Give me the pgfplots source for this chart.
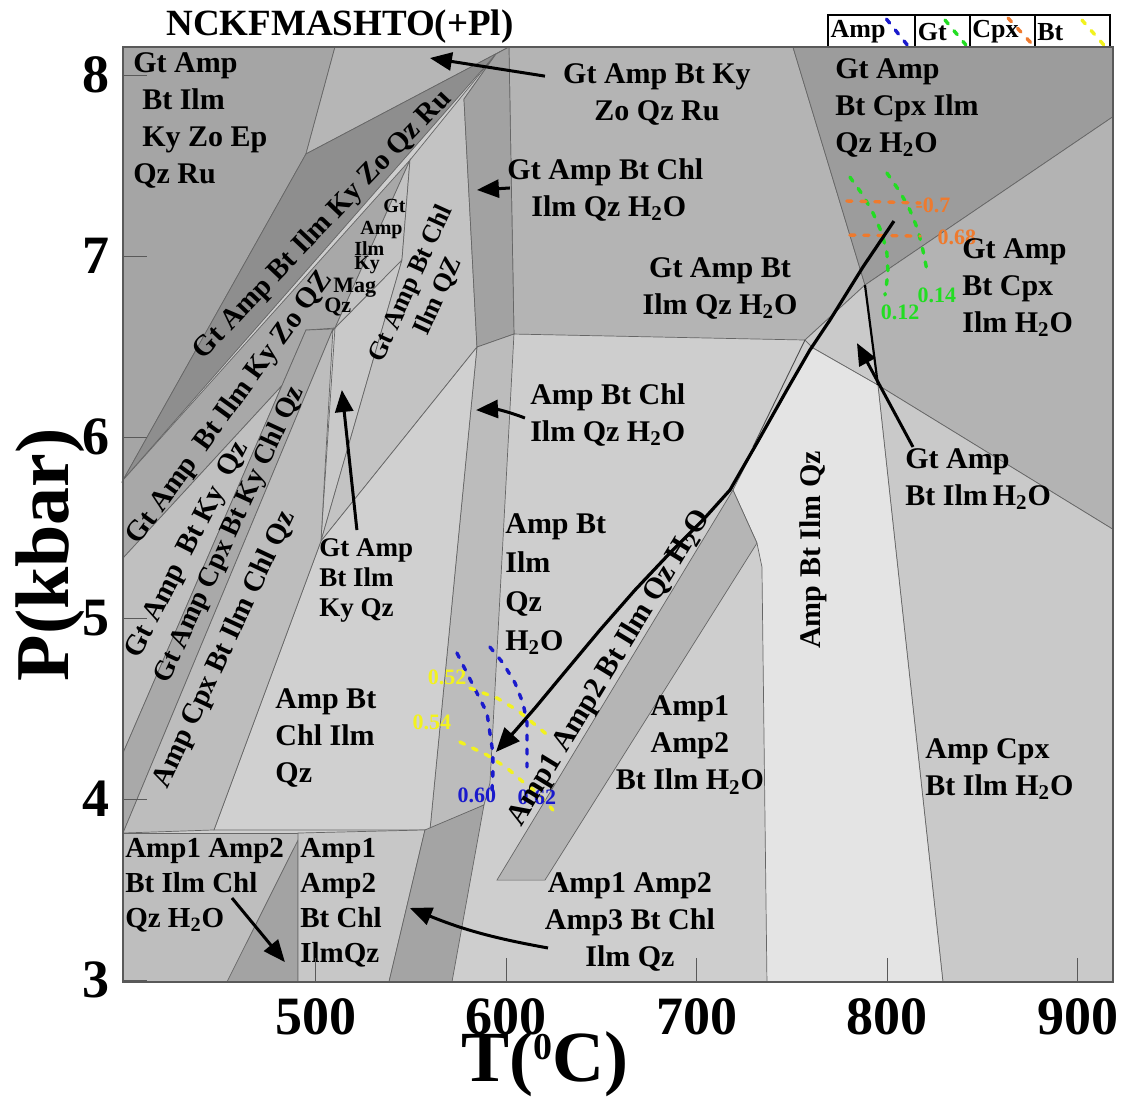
\documentclass[border=0pt]{standalone}
\usepackage{fontspec}
\setmainfont{Liberation Serif}
\usepackage{pgfplots}
\pgfplotsset{compat=1.18}
\usetikzlibrary{arrows.meta}

% grey shades of the assemblage fields
\definecolor{gBase}{HTML}{CECECE}
\definecolor{gA}{HTML}{A5A5A5}
\definecolor{gB}{HTML}{B6B6B6}
\definecolor{gC}{HTML}{8E8E8E}
\definecolor{gD}{HTML}{A8A8A8}
\definecolor{gE}{HTML}{C3C3C3}
\definecolor{gWedge}{HTML}{C9C9C9}
\definecolor{gChlBand}{HTML}{C3C3C3}
\definecolor{gTop}{HTML}{B4B4B4}
\definecolor{gThin}{HTML}{A2A2A2}
\definecolor{gCpxQz}{HTML}{9C9C9C}
\definecolor{gCpx}{HTML}{B3B3B3}
\definecolor{gAmpCpx}{HTML}{C9C9C9}
\definecolor{gSmall}{HTML}{CACACA}
\definecolor{gLight}{HTML}{E4E4E4}
\definecolor{gVert}{HTML}{BCBCBC}
\definecolor{gChl}{HTML}{D0D0D0}
\definecolor{gAmpTwo}{HTML}{B5B5B5}
\definecolor{gKy}{HTML}{C0C0C0}
\definecolor{gKyChl}{HTML}{A9A9A9}
\definecolor{gCpxChl}{HTML}{BDBDBD}
\definecolor{gLow}{HTML}{BEBEBE}
\definecolor{gLowDark}{HTML}{A3A3A3}
\definecolor{gLowMid}{HTML}{C7C7C7}
\definecolor{gLowBand}{HTML}{A4A4A4}
% isopleth colours
\definecolor{isoAmp}{HTML}{1A1ACC}
\definecolor{isoGt}{HTML}{22DD22}
\definecolor{isoCpx}{HTML}{EE7A2E}
\definecolor{isoBt}{HTML}{F2F21E}

\newcommand{\wt}{H\textsubscript{2}O}

\tikzset{
  field/.style={font=\fontsize{15}{18.5}\selectfont\bfseries, inner sep=0pt},
  tiny/.style={font=\fontsize{10}{11}\selectfont\bfseries, inner sep=0pt, anchor=north west},
  val/.style={font=\fontsize{11}{11}\selectfont\bfseries, inner sep=0pt},
  parrow/.style={line width=1.5pt, -{Triangle[length=11pt,width=9pt]}},
  reg/.style={draw=black!60, line width=0.35pt},
  iso/.style={line width=1.7pt, dash pattern=on 2.5pt off 4.5pt, line cap=round},
}

\begin{document}
\begin{tikzpicture}
\useasboundingbox (-61.5pt,-57.5pt) rectangle (506pt,491pt);
\begin{axis}[
  scale only axis, width=495pt, height=467.5pt,
  xmin=398.7, xmax=918.4, ymin=2.989, ymax=8.155,
  axis on top, clip=false, no markers,
  xtick={500,600,700,800,900}, ytick={3,4,5,6,7,8},
  tick align=inside, major tick length=12pt,
  xtick pos=bottom, ytick pos=left,
  tick style={black!65, line width=0.5pt},
  axis line style={black!65, line width=0.6pt},
  ticklabel style={font=\fontsize{27}{27}\selectfont\bfseries},
  xticklabel style={yshift=-5pt},
  yticklabel style={xshift=-3pt},
  /pgf/number format/assume math mode=true,
]

% base field
\addplot[fill=gBase, draw=none] coordinates {(398.7,2.989) (918.4,2.989) (918.4,8.155) (398.7,8.155)} --cycle;

% high-pressure fields, upper left
\addplot[fill=gA, reg] coordinates {(398.7,8.155) (509.97,8.155) (494.75,7.564) (398.7,5.762)} --cycle;
\addplot[fill=gB, reg] coordinates {(509.97,8.155) (601.31,8.155) (494.75,7.564)} --cycle;
\addplot[fill=gC, reg] coordinates {(398.7,5.762) (494.75,7.564) (601.31,8.155) (594.49,8.116)} --cycle;
\addplot[fill=gD, reg] coordinates {(398.7,5.762) (549.34,7.530) (509.97,6.602) (398.7,5.331)} --cycle;
\addplot[fill=gE, reg] coordinates {(509.97,6.602) (549.34,7.530) (545.14,6.978)} --cycle;
\addplot[fill=gWedge, reg] coordinates {(502.62,5.425) (509.97,6.602) (545.14,6.978)} --cycle;
\addplot[fill=gChlBand, reg] coordinates {(545.14,6.978) (549.34,7.530) (594.49,8.116) (577.69,7.867) (584.51,6.497) (502.62,5.425)} --cycle;

% upper central and right fields
\addplot[fill=gTop, reg] coordinates {(601.31,8.155) (750.39,8.155) (788.2,6.840) (756.7,6.536) (603.94,6.569)} --cycle;
\addplot[fill=gThin, reg] coordinates {(594.49,8.116) (577.69,7.867) (584.51,6.497) (603.94,6.569) (601.31,8.155)} --cycle;
\addplot[fill=gCpxQz, reg] coordinates {(750.39,8.155) (918.4,8.155) (918.4,7.77) (788.2,6.840)} --cycle;
\addplot[fill=gCpx, reg] coordinates {(788.2,6.840) (918.4,7.77) (918.4,5.49) (795.0,6.287)} --cycle;
\addplot[fill=gAmpCpx, reg] coordinates {(795.0,6.287) (918.4,5.49) (918.4,2.989) (829.13,2.989)} --cycle;
\addplot[fill=gSmall, reg] coordinates {(756.7,6.536) (788.2,6.840) (795.0,6.287) (760.9,6.492)} --cycle;
\addplot[fill=gLight, reg] coordinates {(760.9,6.492) (795.0,6.287) (829.13,2.989) (736.75,2.989) (734.12,5.282) (731.5,5.414) (718.9,5.707) (731.5,5.967) (747.2,6.260) (759.3,6.481)} --cycle;

% central fields
\addplot[fill=gVert, reg] coordinates {(584.51,6.497) (603.94,6.569) (591.34,4.088) (588.19,3.967) (559.84,3.829)} --cycle;
\addplot[fill=gChl, reg] coordinates {(502.62,5.425) (584.51,6.497) (559.84,3.829) (446.46,3.829)} --cycle;
\addplot[fill=gAmpTwo, reg] coordinates {(718.9,5.707) (731.5,5.414) (620.21,3.552) (595.01,3.552)} --cycle;

% lower left bands
\addplot[fill=gKy, reg] coordinates {(398.7,5.331) (509.97,6.602) (494.75,6.591) (398.7,4.254)} --cycle;
\addplot[fill=gKyChl, reg] coordinates {(398.7,4.254) (494.75,6.591) (508.92,6.597) (398.7,3.812)} --cycle;
\addplot[fill=gCpxChl, reg] coordinates {(398.7,3.812) (508.92,6.597) (502.62,5.425) (446.46,3.829)} --cycle;

% low-pressure fields
\addplot[fill=gLow, reg] coordinates {(398.7,3.812) (490.55,3.812) (490.55,2.989) (398.7,2.989)} --cycle;
\addplot[fill=gLowDark, reg] coordinates {(453.28,2.989) (490.55,3.773) (490.55,2.989)} --cycle;
\addplot[fill=gLowMid, reg] coordinates {(490.55,3.812) (557.22,3.829) (538.32,2.989) (490.55,2.989)} --cycle;
\addplot[fill=gLowBand, reg] coordinates {(557.22,3.829) (588.19,3.967) (571.39,2.989) (538.32,2.989)} --cycle;

% further boundaries
\addplot[black, line width=1.3pt] coordinates {(398.7,4.254) (398.7,3.773)};
\addplot[black, line width=1.1pt] coordinates {(788.2,6.840) (795.0,6.287)};
\addplot[black!70, line width=0.45pt] coordinates {(756.7,6.536) (729.4,5.945)};

% isopleths
\addplot[isoAmp, iso] coordinates {(574.0,4.807) (584.5,4.586) (589.8,4.475) (591.3,4.365) (592.9,4.254) (592.9,4.144) (592.4,4.050)};
\addplot[isoAmp, iso] coordinates {(591.3,4.840) (598.2,4.751) (604.5,4.641) (608.7,4.530) (610.8,4.420) (610.8,4.287) (610.8,4.177)};
\addplot[isoBt, iso] coordinates {(580.8,4.613) (595.0,4.558) (605.5,4.492) (613.9,4.420) (622.8,4.343)};
\addplot[isoBt, iso] coordinates {(575.6,4.315) (589.8,4.243) (600.3,4.171) (608.7,4.094) (617.6,4.022) (624.4,3.939)};
\addplot[isoGt, iso] coordinates {(780.3,7.436) (787.1,7.337) (792.4,7.238) (797.1,7.127) (799.7,7.017) (800.3,6.906) (798.7,6.785)};
\addplot[isoGt, iso] coordinates {(799.7,7.459) (806.6,7.354) (811.8,7.254) (816.0,7.144) (818.6,7.033) (820.7,6.923)};
\addplot[isoCpx, iso] coordinates {(778.7,7.304) (798.0,7.299) (817.1,7.293)};
\addplot[isoCpx, iso] coordinates {(780.3,7.116) (799.0,7.113) (817.1,7.110)};

% P-T path
\addplot[black, line width=1.6pt, -{Triangle[length=12pt,width=10pt]}] coordinates {
  (803.4,7.193) (787.1,6.939) (769.8,6.646) (759.3,6.481) (747.2,6.260)
  (731.5,5.967) (717.3,5.707) (703.1,5.541) (685.8,5.359) (667.5,5.155)
  (649.1,4.934) (630.7,4.702) (615.0,4.503) (604.5,4.376) (594.5,4.260)};

% isopleth values
\node[val, text=isoCpx] at (axis cs:823.9,7.282) {-0.7};
\node[val, text=isoCpx] at (axis cs:836.5,7.105) {0.68};
\node[val, text=isoGt] at (axis cs:826.0,6.785) {0.14};
\node[val, text=isoGt] at (axis cs:806.6,6.691) {0.12};
\node[val, text=isoBt] at (axis cs:568.8,4.674) {0.52};
\node[val, text=isoBt] at (axis cs:560.9,4.425) {0.54};
\node[val, text=isoAmp] at (axis cs:584.5,4.022) {0.60};
\node[val, text=isoAmp] at (axis cs:616.0,4.011) {0.62};

% field labels
\node[field, anchor=north west, align=left] at (axis cs:403.9,8.127) {Gt Amp\\\hspace*{0.3em}Bt Ilm\\\hspace*{0.3em}Ky Zo Ep\\Qz Ru};
\node[field, align=center] at (axis cs:679.0,7.890) {Gt Amp Bt Ky\\Zo Qz Ru};
\node[field, anchor=north west, align=left] at (axis cs:600.3,7.541) {Gt Amp Bt Chl\\\hspace*{0.8em}Ilm Qz \wt};
\node[field, align=center] at (axis cs:712.1,6.823) {Gt Amp Bt\\Ilm Qz \wt};
\node[field, anchor=north west, align=left] at (axis cs:612.3,6.298) {Amp Bt Chl\\Ilm Qz \wt};
\node[field, anchor=north west, align=left, font=\fontsize{15}{19.5}\selectfont\bfseries] at (axis cs:599.2,5.580) {Amp Bt\\Ilm\\Qz\\\wt};
\node[field, rotate=90] at (axis cs:760.9,5.376) {Amp Bt Ilm Qz};
\node[field, rotate=58.7] at (axis cs:654.3,4.724) {Amp1 Amp2 Bt Ilm Qz \wt};
\node[field, align=center] at (axis cs:696.3,4.298) {Amp1\\Amp2\\Bt Ilm \wt};
\node[field, anchor=north west, align=left] at (axis cs:819.7,4.337) {Amp Cpx\\Bt Ilm \wt};
\node[field, anchor=north west, align=left] at (axis cs:809.2,5.939) {Gt Amp\\Bt Ilm\,\wt};
\node[field, anchor=north west, align=left] at (axis cs:839.1,7.099) {Gt Amp\\Bt Cpx\\Ilm \wt};
\node[field, anchor=north west, align=left] at (axis cs:772.4,8.094) {Gt Amp\\Bt Cpx Ilm\\Qz \wt};
\node[field, anchor=north west, align=left] at (axis cs:478.5,4.613) {Amp Bt\\Chl Ilm\\Qz};
\node[field, anchor=north west, align=left, font=\fontsize{13.5}{15}\selectfont\bfseries] at (axis cs:501.6,5.442) {Gt Amp\\Bt Ilm\\Ky Qz};
\node[field, anchor=north west, align=left, font=\fontsize{14.5}{17.5}\selectfont\bfseries] at (axis cs:399.7,3.785) {Amp1 Amp2\\Bt Ilm Chl\\Qz \wt};
\node[field, anchor=north west, align=left, font=\fontsize{14.5}{17.5}\selectfont\bfseries] at (axis cs:491.6,3.785) {Amp1\\Amp2\\Bt Chl\\IlmQz};
\node[field, align=center] at (axis cs:664.8,3.320) {Amp1 Amp2\\Amp3 Bt Chl\\Ilm Qz};

% labels along the narrow bands
\node[field, rotate=46.4, font=\fontsize{14.5}{14.5}\selectfont\bfseries] at (axis cs:503.7,7.171) {Gt Amp Bt Ilm Ky Zo Qz Ru};
\node[field, rotate=54, font=\fontsize{14.5}{14.5}\selectfont\bfseries] at (axis cs:454.9,6.160) {Gt Amp\ \ Bt Ilm Ky Zo QZ};
\node[field, rotate=63, font=\fontsize{14.5}{14.5}\selectfont\bfseries] at (axis cs:432.8,5.376) {Gt Amp\ \ Bt Ky\ \ Qz};
\node[field, rotate=65.3, font=\fontsize{14}{14}\selectfont\bfseries] at (axis cs:454.9,5.459) {Gt Amp Cpx Bt Ky Chl Qz};
\node[field, rotate=64.9, font=\fontsize{14.5}{14.5}\selectfont\bfseries] at (axis cs:452.2,4.823) {Amp Cpx Bt Ilm Chl Qz};
\node[field, rotate=65.5, align=center, font=\fontsize{13}{15}\selectfont\bfseries] at (axis cs:557.2,6.812) {Gt Amp Bt Chl\\Ilm QZ};
\node[tiny] at (axis cs:535.2,7.315) {Gt};
\node[tiny] at (axis cs:523.1,7.193) {Amp};
\node[tiny] at (axis cs:519.9,7.083) {Ilm};
\node[tiny] at (axis cs:519.9,7.000) {Ky};
\node[tiny, font=\fontsize{11}{12}\selectfont\bfseries] at (axis cs:508.9,6.878) {Mag};
\node[tiny, font=\fontsize{11}{12}\selectfont\bfseries] at (axis cs:504.2,6.768) {Qz};

% pointers to narrow fields
\draw[parrow] (axis cs:620.2,7.994) -- (axis cs:559.8,8.094);
\draw[parrow] (axis cs:601.8,7.376) -- (axis cs:584.5,7.365);
\draw[parrow] (axis cs:609.7,6.105) to[bend right=12] (axis cs:584.0,6.149);
\draw[parrow] (axis cs:521.5,5.486) -- (axis cs:513.6,6.260);
\draw[parrow] (axis cs:813.4,5.945) -- (axis cs:784.0,6.519);
\draw[parrow] (axis cs:455.9,3.453) -- (axis cs:483.7,3.099);
\draw[parrow] (axis cs:621.8,3.177) to[bend left=6] (axis cs:549.3,3.398);

% title
\node[font=\fontsize{18.5}{18.5}\selectfont\bfseries] at (axis cs:512.6,8.268) {NCKFMASHTO(+Pl)};

% key to the isopleth colours
\draw[black, line width=0.8pt] (axis cs:768.8,8.155) rectangle (axis cs:916.8,8.331);
\draw[black, line width=0.8pt] (axis cs:814.4,8.155) -- (axis cs:814.4,8.331);
\draw[black, line width=0.8pt] (axis cs:843.3,8.155) -- (axis cs:843.3,8.331);
\draw[black, line width=0.8pt] (axis cs:877.4,8.155) -- (axis cs:877.4,8.331);
\node[anchor=west, inner sep=0pt, font=\fontsize{13}{13}\selectfont\bfseries] at (axis cs:770.0,8.238) {Amp};
\node[anchor=west, inner sep=0pt, font=\fontsize{13}{13}\selectfont\bfseries] at (axis cs:815.8,8.238) {Gt};
\node[anchor=west, inner sep=0pt, font=\fontsize{13}{13}\selectfont\bfseries] at (axis cs:844.4,8.238) {Cpx};
\node[anchor=west, inner sep=0pt, font=\fontsize{13}{13}\selectfont\bfseries] at (axis cs:878.5,8.238) {Bt};
\draw[isoAmp, iso] (axis cs:799.5,8.309) -- (axis cs:810.5,8.165);
\draw[isoGt, iso] (axis cs:830.2,8.304) -- (axis cs:841.2,8.166);
\draw[isoCpx, iso] (axis cs:863.3,8.315) -- (axis cs:875.9,8.171);
\draw[isoBt, iso] (axis cs:902.1,8.304) -- (axis cs:913.6,8.166);

% axis titles
\node[rotate=90, font=\fontsize{38}{38}\selectfont\bfseries] at (rel axis cs:-0.0737,0.457) {P(kbar)};
\node[anchor=base, inner sep=0pt, font=\fontsize{36}{36}\selectfont\bfseries] at (rel axis cs:0.426,-0.1062) {T(\raisebox{0.3em}{\fontsize{19}{19}\selectfont 0}C)};
\end{axis}
\end{tikzpicture}
\end{document}
